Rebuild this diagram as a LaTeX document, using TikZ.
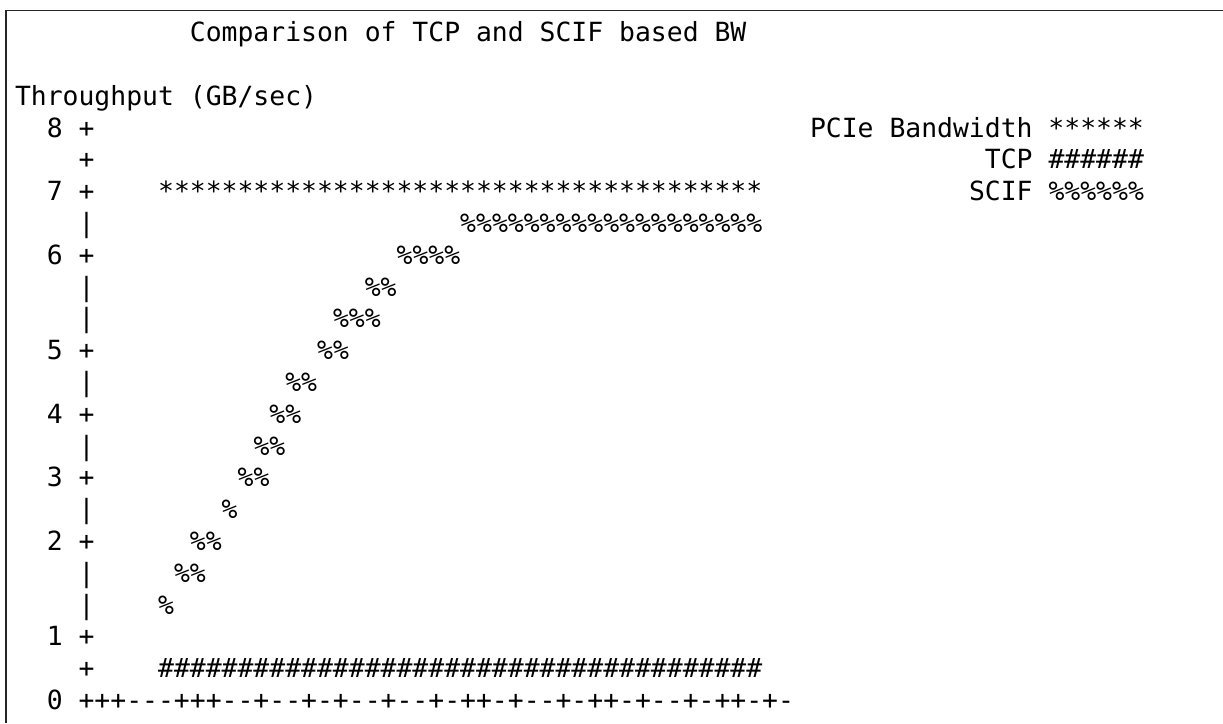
\documentclass[tikz,border=0pt]{standalone}
\usepackage{fontspec}
\newfontfamily\plotmono{DejaVu Sans Mono}
\begin{document}
\begin{tikzpicture}[x=1pt,y=1pt,
  txt/.style={anchor=base west, inner sep=0pt, outer sep=0pt,
    font=\plotmono\fontsize{26.41}{30}\selectfont, text=black},
  frameline/.style={line width=1.3pt, draw=black!85}]
\useasboundingbox (0,0) rectangle (1223,-723);
\coordinate (fbl) at (6,-723);
\coordinate (ftl) at (6,-10.5);
\coordinate (ftr) at (1223,-10.5);
\draw[frameline] (fbl) -- (ftl) -- (ftr);
\begin{scope}[x=15.9pt, y=-31.8pt, shift={(15pt,-41.7pt)}]
% row 0
\node[txt] (title) at (11,0) {Comparison of TCP and SCIF based BW};
% row 2
\node[txt] (ylabel) at (0,2) {Throughput (GB/sec)};
% row 3
\node[txt] (n8) at (2,3) {8};
\node[txt] (a3) at (4,3) {+};
\node[txt] (keyA) at (50,3) {PCIe Bandwidth ******};
% row 4
\node[txt] (a4) at (4,4) {+};
\node[txt] (keyB) at (61,4) {TCP \#\#\#\#\#\#};
% row 5
\node[txt] (n7) at (2,5) {7};
\node[txt] (a5) at (4,5) {+};
\node[txt] (pcie) at (9,5) {**************************************};
\node[txt] (keyC) at (60,5) {SCIF \%\%\%\%\%\%};
% row 6
\node[txt] (a6) at (4,6) {|};
\node[txt] (s6) at (28,6) {\%\%\%\%\%\%\%\%\%\%\%\%\%\%\%\%\%\%\%};
% row 7
\node[txt] (n6) at (2,7) {6};
\node[txt] (a7) at (4,7) {+};
\node[txt] (s7) at (24,7) {\%\%\%\%};
% row 8
\node[txt] (a8) at (4,8) {|};
\node[txt] (s8) at (22,8) {\%\%};
% row 9
\node[txt] (a9) at (4,9) {|};
\node[txt] (s9) at (20,9) {\%\%\%};
% row 10
\node[txt] (n5) at (2,10) {5};
\node[txt] (a10) at (4,10) {+};
\node[txt] (s10) at (19,10) {\%\%};
% row 11
\node[txt] (a11) at (4,11) {|};
\node[txt] (s11) at (17,11) {\%\%};
% row 12
\node[txt] (n4) at (2,12) {4};
\node[txt] (a12) at (4,12) {+};
\node[txt] (s12) at (16,12) {\%\%};
% row 13
\node[txt] (a13) at (4,13) {|};
\node[txt] (s13) at (15,13) {\%\%};
% row 14
\node[txt] (n3) at (2,14) {3};
\node[txt] (a14) at (4,14) {+};
\node[txt] (s14) at (14,14) {\%\%};
% row 15
\node[txt] (a15) at (4,15) {|};
\node[txt] (s15) at (13,15) {\%};
% row 16
\node[txt] (n2) at (2,16) {2};
\node[txt] (a16) at (4,16) {+};
\node[txt] (s16) at (11,16) {\%\%};
% row 17
\node[txt] (a17) at (4,17) {|};
\node[txt] (s17) at (10,17) {\%\%};
% row 18
\node[txt] (a18) at (4,18) {|};
\node[txt] (s18) at (9,18) {\%};
% row 19
\node[txt] (n1) at (2,19) {1};
\node[txt] (a19) at (4,19) {+};
% row 20
\node[txt] (a20) at (4,20) {+};
\node[txt] (tcp) at (9,20) {\#\#\#\#\#\#\#\#\#\#\#\#\#\#\#\#\#\#\#\#\#\#\#\#\#\#\#\#\#\#\#\#\#\#\#\#\#\#};
% row 21
\node[txt] (n0) at (2,21) {0};
\node[txt] (xaxis) at (4,21) {+++---+++--+--+-+--+--+-++-+--+-++-+--+-++-+-};
\end{scope}
\end{tikzpicture}
\end{document}
